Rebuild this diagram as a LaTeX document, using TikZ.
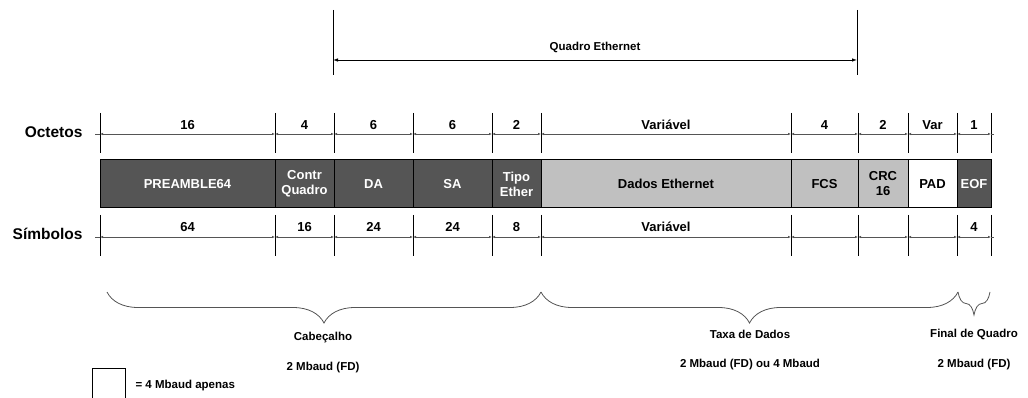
\documentclass[tikz,border=0pt]{standalone}
\usepackage{fontspec}
\setmainfont{Liberation Sans}
\usetikzlibrary{arrows.meta,decorations.pathreplacing}
\definecolor{darkfield}{HTML}{555555}
\definecolor{lightfield}{HTML}{C0C0C0}
\definecolor{linegray}{HTML}{555555}

\begin{document}
\begin{tikzpicture}[x=1pt,y=-1pt,
  font=\bfseries\fontsize{11.5}{13}\selectfont,
  field/.style={rectangle, draw=black, line width=1pt, minimum height=48pt, inner sep=0pt, align=center, text=white, fill=darkfield, font=\bfseries\fontsize{13}{15}\selectfont},
  datafield/.style={field, fill=lightfield, text=black},
  padfield/.style={field, fill=white, text=black},
  dimlabel/.style={font=\bfseries\fontsize{13}{15}\selectfont},
  tick/.style={draw=black, line width=0.8pt},
  dim/.style={draw=linegray, line width=0.8pt, {Latex[length=3pt,width=2.5pt]}-{Latex[length=3pt,width=2.5pt]}},
  bigdim/.style={draw=black, line width=0.8pt, {Latex[length=5pt,width=3.5pt]}-{Latex[length=5pt,width=3.5pt]}},
  curly/.style={draw=linegray, line width=0.8pt, decorate, decoration={brace, mirror, amplitude=#1}},
  rowlabel/.style={font=\bfseries\fontsize{15.5}{18}\selectfont, anchor=east}
]
\useasboundingbox (0,0) rectangle (1028,398);

% Quadro Ethernet
\coordinate (qL) at (333,60);
\coordinate (qR) at (857,60);
\draw[tick] (333,10) -- (333,75);
\draw[tick] (857,10) -- (857,75);
\draw[bigdim] (qL) -- (qR);
\node (qlabel) at (595,47) {Quadro Ethernet};

% campos do quadro
\node[field, minimum width=175pt] (pre)  at (187.5,184) {PREAMBLE64};
\node[field, minimum width=59pt]  (ctrl) at (304.5,184) {Contr\\Quadro};
\node[field, minimum width=79pt]  (da)   at (373.5,184) {DA};
\node[field, minimum width=79pt]  (sa)   at (452.5,184) {SA};
\node[field, minimum width=49pt]  (tipo) at (516.5,184) {Tipo\\Ether};
\node[datafield, minimum width=250pt] (dados) at (666,184) {Dados Ethernet};
\node[datafield, minimum width=67pt]  (fcs)   at (824.5,184) {FCS};
\node[datafield, minimum width=50pt]  (crc)   at (883,184) {CRC\\16};
\node[padfield, minimum width=49pt]   (pad)   at (932.5,184) {PAD};
\node[field, minimum width=34pt]      (eof)   at (974,184) {EOF};

% linhas de cota
\node[rowlabel] (oct) at (86,132) {Octetos};
\node[rowlabel] (sym) at (86,234) {Símbolos};
\foreach \x in {100,275,334,413,492,541,791,858,908,957,991} {
  \draw[tick] (\x,113) -- (\x,153);
  \draw[tick] (\x,215) -- (\x,256);
}
\foreach \a/\b in {100/275,275/334,334/413,413/492,492/541,541/791,791/858,858/908,908/957,957/991} {
  \draw[dim] (\a,134) -- (\b,134);
  \draw[dim] (\a,237) -- (\b,237);
}
\draw[draw=linegray, line width=0.8pt] (95,134) -- (100,134) (991,134) -- (994,134);
\draw[draw=linegray, line width=0.8pt] (95,237) -- (100,237) (991,237) -- (994,237);

\foreach \x/\t [count=\i] in {187.5/16,304.5/4,373.5/6,452.5/6,516.5/2,666/Variável,824.5/4,883/2,932.5/Var,974/1}
  \node[dimlabel] (o\i) at (\x,125) {\t};
\foreach \x/\t [count=\i] in {187.5/64,304.5/16,373.5/24,452.5/24,516.5/8,666/Variável,974/4}
  \node[dimlabel] (s\i) at (\x,227) {\t};

% chaves
\draw[curly=31pt] (107,292) -- (541,292);
\draw[curly=31pt] (541,292) -- (958,292);
\draw[curly=23pt] (958,292) -- (990,292);
\node (cab)   at (323,338) {Cabeçalho};
\node (cabr)  at (323,368) {2 Mbaud (FD)};
\node (taxa)  at (750,334) {Taxa de Dados};
\node (taxar) at (750,365) {2 Mbaud (FD) ou 4 Mbaud};
\node (fim)   at (974,334) {Final de Quadro};
\node (fimr)  at (974,365) {2 Mbaud (FD)};

% legenda
\draw[tick] (92,368) rectangle (125,402);
\node[anchor=west] (leg) at (132,386) {= 4 Mbaud apenas};
\end{tikzpicture}
\end{document}
